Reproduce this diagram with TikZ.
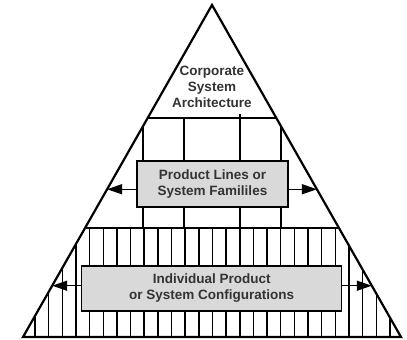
\documentclass[tikz,border=0pt]{standalone}
\usepackage{fontspec}
\setmainfont{Liberation Sans}
\usetikzlibrary{arrows.meta,calc}
\definecolor{ink}{RGB}{51,51,51}
\definecolor{boxgray}{RGB}{217,217,217}
\tikzset{
  label/.style={align=center,font=\fontsize{13.5}{16}\selectfont\bfseries,text=ink,inner sep=0pt},
  tier/.style={label,draw=black,line width=1.5pt,fill=boxgray},
  gridline/.style={draw=black,line width=1.5pt},
  arr/.style={-{Triangle[length=15pt,width=10pt]},draw=black,line width=1.5pt},
}
\begin{document}
\begin{tikzpicture}[x=1pt,y=-1pt]
  \useasboundingbox (0,0) rectangle (407,340);
  \coordinate (apex) at (212,5);
  \coordinate (bl) at (23,337);
  \coordinate (br) at (401,337);
  % tiers: grid lines cut to the pyramid
  \begin{scope}
    \clip (apex) -- (bl) -- (br) -- cycle;
    \draw[gridline] (0,118) -- (407,118);
    \foreach \x/\t in {143/118,184/118,240/114,281/118}{\draw[gridline] (\x,\t) -- (\x,228);}
    \draw[gridline] (0,228) -- (407,228);
    \foreach \k in {0,...,26}{\draw[gridline] ({35+13.65*\k},228) -- ({35+13.65*\k},337);}
  \end{scope}
  \draw[line width=2.2pt,line join=miter] (apex) -- (bl) -- (br) -- cycle;
  \node[label] (corp) at (212,87) {Corporate\\System\\Architecture};
  \node[tier,minimum width=151pt,minimum height=46pt] (lines) at (212.5,184) {Product Lines or\\System Famililes};
  \node[tier,minimum width=260pt,minimum height=45pt] (configs) at (211.7,288.3) {Individual Product\\or System Configurations};
  \coordinate (linesL) at ($(apex)!0.555!(bl)$);
  \coordinate (linesR) at ($(apex)!0.555!(br)$);
  \coordinate (configsL) at ($(apex)!0.8455!(bl)$);
  \coordinate (configsR) at ($(apex)!0.8455!(br)$);
  \draw[arr] (lines.west |- linesL) -- (linesL);
  \draw[arr] (lines.east |- linesR) -- (linesR);
  \draw[arr] (configs.west |- configsL) -- (configsL);
  \draw[arr] (configs.east |- configsR) -- (configsR);
\end{tikzpicture}
\end{document}
